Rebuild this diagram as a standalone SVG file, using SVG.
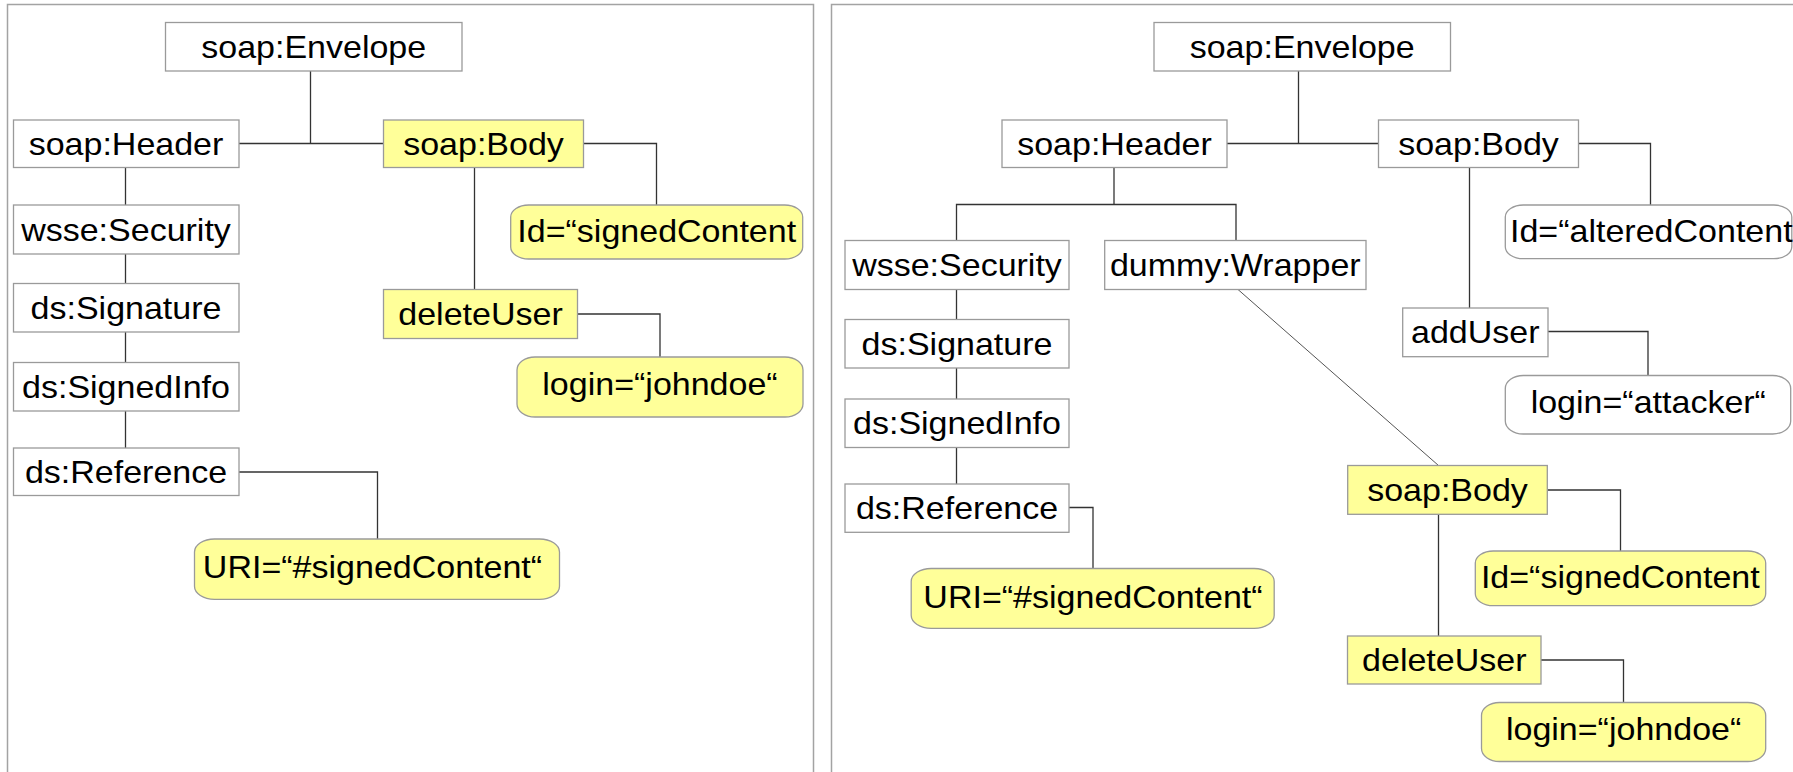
<svg xmlns="http://www.w3.org/2000/svg" width="1793" height="772" viewBox="0 0 1793 772">
  <style>
    .frame { fill: none; stroke: #a3a3a3; stroke-width: 1.5; }
    .box { fill: #ffffff; stroke: #9a9a9a; stroke-width: 1.3; }
    .hl { fill: #ffff99; }
    .pill { stroke: #9a9a9a; stroke-width: 1.3; }
    .wire { fill: none; stroke: #333333; stroke-width: 1.3; }
    .thin { stroke: #555555; stroke-width: 1; }
    text { font-family: "Liberation Sans", Arial, sans-serif; font-size: 30.5px; fill: #000000; }
    .c { text-anchor: middle; }
  </style>

  <!-- panel frames -->
  <path class="frame" d="M7.5 772 V4.5 H813.5 V772"/>
  <path class="frame" d="M831.5 772 V4.5 H1793"/>

  <!-- connectors -->
  <g id="connectors">
    <!-- original message -->
    <path class="wire" d="M310.5 71 V143.5"/>
    <path class="wire" d="M239 143.5 H383.5"/>
    <path class="wire" d="M583.5 143.5 H656.5 V205"/>
    <path class="wire" d="M474.5 167.5 V289.5"/>
    <path class="wire" d="M577.5 314 H660 V357"/>
    <path class="wire" d="M125.5 167.5 V205"/>
    <path class="wire" d="M125.5 254 V283.5"/>
    <path class="wire" d="M125.5 332 V362.5"/>
    <path class="wire" d="M125.5 411 V448"/>
    <path class="wire" d="M239 472 H377.5 V539"/>
    <!-- wrapped message -->
    <path class="wire" d="M1298.5 71 V143.5"/>
    <path class="wire" d="M1227 143.5 H1378.5"/>
    <path class="wire" d="M1578.5 143.5 H1650.5 V205"/>
    <path class="wire" d="M1114 167.5 V204.5"/>
    <path class="wire" d="M956.5 240.5 V204.5 H1236 V240.5"/>
    <path class="wire" d="M956.5 289.5 V319.5"/>
    <path class="wire" d="M956.5 368 V399"/>
    <path class="wire" d="M956.5 447.5 V484"/>
    <path class="wire" d="M1069 507.5 H1093 V568.5"/>
    <path class="wire thin" d="M1238 289.5 L1438.5 465.5"/>
    <path class="wire" d="M1469.5 167.5 V308"/>
    <path class="wire" d="M1548 331.5 H1648 V375.5"/>
    <path class="wire" d="M1547.5 490 H1620.5 V551"/>
    <path class="wire" d="M1438.5 514.5 V636"/>
    <path class="wire" d="M1541 660 H1623.5 V702.5"/>
  </g>

  <!-- original message (left) -->
  <g id="l-envelope">
    <rect class="box" x="165.5" y="22.5" width="296.5" height="48.5"/>
    <text class="c" transform="translate(313.7 58) scale(1.115 1)">soap:Envelope</text>
  </g>
  <g id="l-header">
    <rect class="box" x="13.5" y="120" width="225.5" height="47.5"/>
    <text class="c" transform="translate(126 154.8) scale(1.115 1)">soap:Header</text>
  </g>
  <g id="l-body">
    <rect class="box hl" x="383.5" y="120" width="200" height="47.5"/>
    <text class="c" transform="translate(483.5 154.8) scale(1.115 1)">soap:Body</text>
  </g>
  <g id="l-security">
    <rect class="box" x="13.5" y="205" width="225.5" height="49"/>
    <text class="c" transform="translate(126 240.5) scale(1.115 1)">wsse:Security</text>
  </g>
  <g id="l-signature">
    <rect class="box" x="13.5" y="283.5" width="225.5" height="48.5"/>
    <text class="c" transform="translate(126 318.7) scale(1.115 1)">ds:Signature</text>
  </g>
  <g id="l-signedinfo">
    <rect class="box" x="13.5" y="362.5" width="225.5" height="48.5"/>
    <text class="c" transform="translate(126 397.7) scale(1.115 1)">ds:SignedInfo</text>
  </g>
  <g id="l-reference">
    <rect class="box" x="13.5" y="448" width="225.5" height="47.5"/>
    <text class="c" transform="translate(126 482.7) scale(1.115 1)">ds:Reference</text>
  </g>
  <g id="l-uri">
    <rect class="pill hl" x="194.5" y="539" width="365" height="60.3" rx="20" ry="13"/>
    <text class="c" transform="translate(372.5 578.4) scale(1.115 1)">URI=“#signedContent“</text>
  </g>
  <g id="l-id">
    <rect class="pill hl" x="510.7" y="205" width="292" height="54" rx="18" ry="12"/>
    <text transform="translate(517.3 241.7) scale(1.115 1)">Id=“signedContent</text>
  </g>
  <g id="l-deleteuser">
    <rect class="box hl" x="383.5" y="289.5" width="194" height="49"/>
    <text class="c" transform="translate(480.5 325) scale(1.115 1)">deleteUser</text>
  </g>
  <g id="l-login">
    <rect class="pill hl" x="517" y="357" width="286" height="60" rx="18" ry="13"/>
    <text class="c" transform="translate(660 394.5) scale(1.115 1)">login=“johndoe“</text>
  </g>

  <!-- wrapped message (right) -->
  <g id="r-envelope">
    <rect class="box" x="1154" y="22.5" width="296.5" height="48.5"/>
    <text class="c" transform="translate(1302.2 58) scale(1.115 1)">soap:Envelope</text>
  </g>
  <g id="r-header">
    <rect class="box" x="1002" y="120" width="225" height="47.5"/>
    <text class="c" transform="translate(1114.5 154.8) scale(1.115 1)">soap:Header</text>
  </g>
  <g id="r-body">
    <rect class="box" x="1378.5" y="120" width="200" height="47.5"/>
    <text class="c" transform="translate(1478.5 154.8) scale(1.115 1)">soap:Body</text>
  </g>
  <g id="r-id-altered">
    <rect class="pill" fill="#ffffff" x="1505.3" y="205" width="286.5" height="53.7" rx="18" ry="12"/>
    <text transform="translate(1510 241.7) scale(1.115 1)">Id=“alteredContent</text>
  </g>
  <g id="r-adduser">
    <rect class="box" x="1402.7" y="308" width="145.3" height="48.7"/>
    <text class="c" transform="translate(1475.3 343.3) scale(1.115 1)">addUser</text>
  </g>
  <g id="r-login-attacker">
    <rect class="pill" fill="#ffffff" x="1505.3" y="375.5" width="285.4" height="58.5" rx="18" ry="13"/>
    <text class="c" transform="translate(1648.3 412.5) scale(1.115 1)">login=“attacker“</text>
  </g>
  <g id="r-security">
    <rect class="box" x="845" y="240.5" width="224" height="49"/>
    <text class="c" transform="translate(957 276) scale(1.115 1)">wsse:Security</text>
  </g>
  <g id="r-wrapper">
    <rect class="box" x="1104.7" y="240.5" width="261.3" height="49"/>
    <text class="c" transform="translate(1235.3 276) scale(1.115 1)">dummy:Wrapper</text>
  </g>
  <g id="r-signature">
    <rect class="box" x="845" y="319.5" width="224" height="48.5"/>
    <text class="c" transform="translate(957 354.7) scale(1.115 1)">ds:Signature</text>
  </g>
  <g id="r-signedinfo">
    <rect class="box" x="845" y="399" width="224" height="48.5"/>
    <text class="c" transform="translate(957 434.2) scale(1.115 1)">ds:SignedInfo</text>
  </g>
  <g id="r-reference">
    <rect class="box" x="845" y="484" width="224" height="48.3"/>
    <text class="c" transform="translate(957 519) scale(1.115 1)">ds:Reference</text>
  </g>
  <g id="r-uri">
    <rect class="pill hl" x="911.2" y="568.5" width="363" height="59.8" rx="20" ry="13"/>
    <text class="c" transform="translate(1093 607.8) scale(1.115 1)">URI=“#signedContent“</text>
  </g>
  <g id="r-body-signed">
    <rect class="box hl" x="1347.7" y="465.5" width="199.6" height="48.8"/>
    <text class="c" transform="translate(1447.5 501) scale(1.115 1)">soap:Body</text>
  </g>
  <g id="r-id-signed">
    <rect class="pill hl" x="1475.3" y="551" width="290.4" height="54.7" rx="18" ry="12"/>
    <text transform="translate(1480.9 587.8) scale(1.115 1)">Id=“signedContent</text>
  </g>
  <g id="r-deleteuser">
    <rect class="box hl" x="1347.5" y="636" width="193.5" height="48"/>
    <text class="c" transform="translate(1444.3 671) scale(1.115 1)">deleteUser</text>
  </g>
  <g id="r-login">
    <rect class="pill hl" x="1481.5" y="702.5" width="284.2" height="59" rx="18" ry="13"/>
    <text class="c" transform="translate(1623.6 740) scale(1.115 1)">login=“johndoe“</text>
  </g>
</svg>
